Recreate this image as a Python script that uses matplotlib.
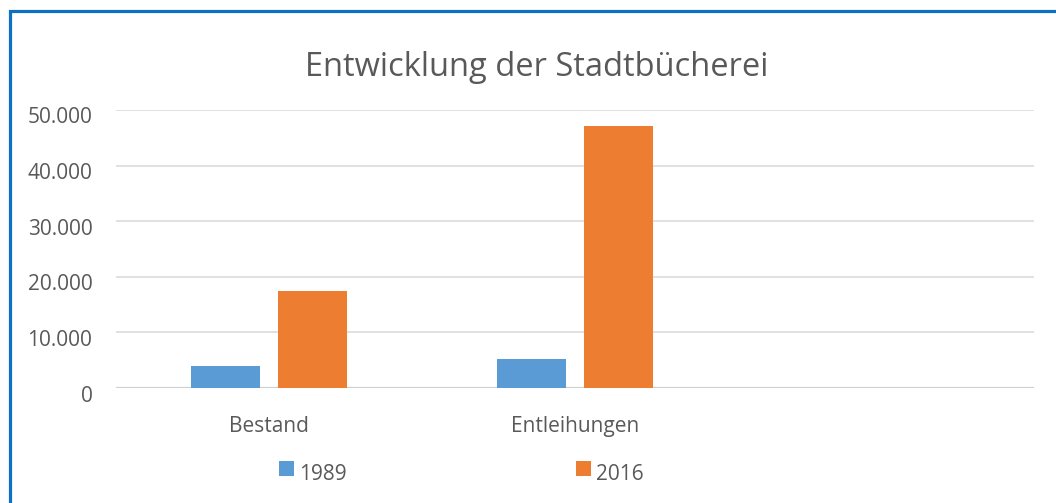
import numpy as np
import matplotlib
matplotlib.use("Agg")
import matplotlib.pyplot as plt
import matplotlib.transforms as mtransforms
from matplotlib.patches import Rectangle

# Daten
kategorien = ["Bestand", "Entleihungen", ""]
werte_1989 = [3900, 5200, np.nan]
werte_2016 = [17400, 47100, np.nan]
serien = ["1989", "2016"]
y_ticks = [0, 10000, 20000, 30000, 40000, 50000]

blau = "#5B9BD5"
orange = "#ED7D31"
grau = "#595959"

plt.rcParams["font.family"] = ["Open Sans", "DejaVu Sans"]

fig = plt.figure(figsize=(10.56, 5.03), dpi=100)
ax = fig.add_axes([116 / 1056, 1 - 388 / 503, (1034 - 116) / 1056, (388 - 110) / 503])

x = np.arange(len(kategorien))
breite = 0.225
ax.bar(x - 0.142, werte_1989, breite, color=blau, label=serien[0], zorder=3)
ax.bar(x + 0.142, werte_2016, breite, color=orange, label=serien[1], zorder=3)

ax.set_xlim(-0.5, 2.5)
ax.set_ylim(0, 50000)
ax.set_yticks(y_ticks)
ax.set_yticklabels([f"{v:,.0f}".replace(",", ".") for v in y_ticks])
ax.set_xticks(x)
ax.set_xticklabels(kategorien)

for sp in ax.spines.values():
    sp.set_visible(False)
ax.tick_params(axis="both", length=0, labelsize=15, colors=grau)
ax.tick_params(axis="y", pad=17)
ax.tick_params(axis="x", pad=20)
ax.yaxis.grid(True, color="#d9d9d9", linewidth=1.1, zorder=0)
ax.axhline(0, color="#d0d0d0", linewidth=1.6, zorder=2)

# Beschriftungen der y-Achse etwas tiefer, wie in Excel
versatz = mtransforms.ScaledTranslation(0, -0.055, fig.dpi_scale_trans)
for lbl in ax.get_yticklabels():
    lbl.set_transform(lbl.get_transform() + versatz)

fig.text(0.508, 1 - 68 / 503, "Entwicklung der Stadtbücherei",
         ha="center", va="center", fontsize=23.5, color=grau)

leg = fig.legend(loc="center", bbox_to_anchor=(0.437, 1 - 470 / 503), ncol=2,
                 frameon=False, fontsize=15, handlelength=0.7, handleheight=0.7,
                 handletextpad=0.25, columnspacing=11.0, borderpad=0,
                 labelcolor=grau)
for t in leg.get_texts():
    t.set_transform(t.get_transform() + mtransforms.ScaledTranslation(0, -0.04, fig.dpi_scale_trans))

# blauer Rahmen (nur oben und links sichtbar)
fig.patches.append(Rectangle((9.5 / 1056, -0.1), 1.2, (503 - 11) / 503 + 0.1,
                             transform=fig.transFigure, fill=False,
                             edgecolor="#0E70C0", linewidth=2.3))

fig.savefig("out.png", dpi=100, facecolor="white")
